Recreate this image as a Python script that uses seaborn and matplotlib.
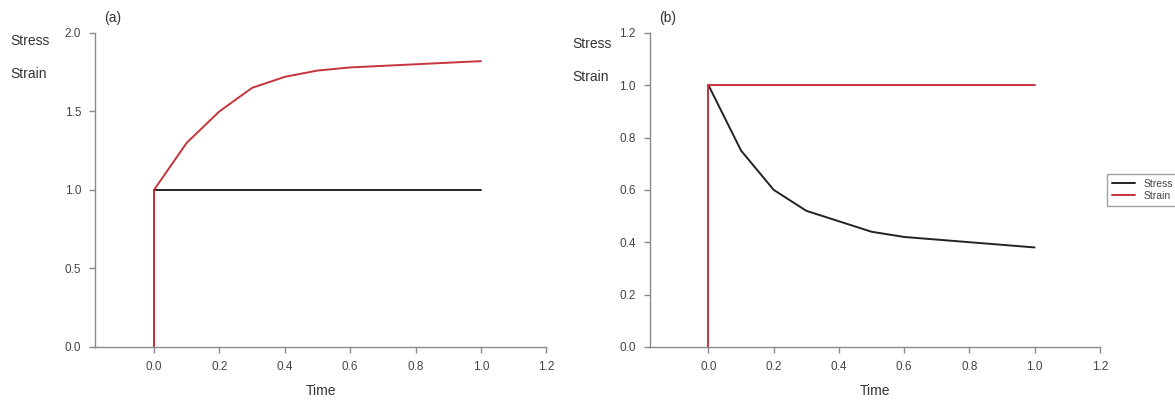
import numpy as np
import pandas as pd
import matplotlib
matplotlib.use("Agg")
import matplotlib.pyplot as plt
import seaborn as sns

# Panel (a): creep - constant stress, strain rising
tiempo_a = [0.0, 0.0, 0.1, 0.2, 0.3, 0.4, 0.5, 0.6, 0.8, 1.0]
strain_a = [0.0, 1.0, 1.30, 1.50, 1.65, 1.72, 1.76, 1.78, 1.80, 1.82]
tiempo_stress_a = [0.0, 0.0, 1.0]
stress_a = [0.0, 1.0, 1.0]

# Panel (b): relaxation - constant strain, stress decaying
tiempo_b = [0.0, 0.1, 0.2, 0.3, 0.4, 0.5, 0.6, 0.8, 1.0]
stress_b = [1.0, 0.75, 0.60, 0.52, 0.48, 0.44, 0.42, 0.40, 0.38]
tiempo_strain_b = [0.0, 0.0, 1.0]
strain_b = [0.0, 1.0, 1.0]

xticks = [0.0, 0.2, 0.4, 0.6, 0.8, 1.0, 1.2]
yticks_a = [0.0, 0.5, 1.0, 1.5, 2.0]
yticks_b = [0.0, 0.2, 0.4, 0.6, 0.8, 1.0, 1.2]

sns.set_style("white")
plt.rcParams['font.family'] = ['Liberation Sans', 'DejaVu Sans']

rojo = '#c5343c'
negro = '#222222'
gris = '#8a8a8a'

fig = plt.figure(figsize=(11.75, 4.01), dpi=100)
ax1 = fig.add_axes([0.081, 0.135, 0.384, 0.783])
ax2 = fig.add_axes([0.553, 0.135, 0.383, 0.783])

def tabla(x, y, nombre):
    return pd.DataFrame({"Time": x, "valor": y, "serie": nombre})

# panel a
sns.lineplot(data=tabla(tiempo_stress_a, stress_a, "Stress"), x="Time", y="valor",
             sort=False, estimator=None, color=negro, lw=1.4, ax=ax1)
sns.lineplot(data=tabla(tiempo_a, strain_a, "Strain"), x="Time", y="valor",
             sort=False, estimator=None, color=rojo, lw=1.4, ax=ax1)

# panel b
sns.lineplot(data=tabla(tiempo_b, stress_b, "Stress"), x="Time", y="valor",
             sort=False, estimator=None, color=negro, lw=1.4, ax=ax2, label="Stress")
sns.lineplot(data=tabla(tiempo_strain_b, strain_b, "Strain"), x="Time", y="valor",
             sort=False, estimator=None, color=rojo, lw=1.4, ax=ax2, label="Strain")

for ax, yt, letra in [(ax1, yticks_a, "(a)"), (ax2, yticks_b, "(b)")]:
    ax.set_xlim(-0.18, 1.2)
    ax.set_ylim(0, yt[-1])
    ax.set_xticks(xticks)
    ax.set_yticks(yt)
    ax.set_xticklabels([f"{v:.1f}" for v in xticks])
    ax.set_yticklabels([f"{v:.1f}" for v in yt])
    for s in ["top", "right"]:
        ax.spines[s].set_visible(False)
    for s in ["left", "bottom"]:
        ax.spines[s].set_color(gris)
        ax.spines[s].set_linewidth(1.0)
    ax.tick_params(axis="both", direction="out", length=4, width=1.0, color=gris,
                   labelsize=8.5, labelcolor='#444444', pad=6, left=True, bottom=True)
    ax.set_xlabel("Time", fontsize=10, color='#333333', labelpad=8)
    ax.set_ylabel("")
    ax.text(0.02, 1.035, letra, transform=ax.transAxes, fontsize=10, color='#333333')

fig.text(0.009, 0.888, "Stress", fontsize=10, color='#333333')
fig.text(0.009, 0.805, "Strain", fontsize=10, color='#333333')
fig.text(0.487, 0.88, "Stress", fontsize=10, color='#333333')
fig.text(0.487, 0.797, "Strain", fontsize=10, color='#333333')

leg = ax2.legend(loc="center left", bbox_to_anchor=(1.005, 0.5), fontsize=7.5,
                 frameon=True, fancybox=False, handlelength=2.2, borderpad=0.5,
                 labelspacing=0.2, edgecolor=gris)
leg.get_frame().set_linewidth(1.0)
for t in leg.get_texts():
    t.set_color('#444444')

fig.savefig("out.png", dpi=100)
